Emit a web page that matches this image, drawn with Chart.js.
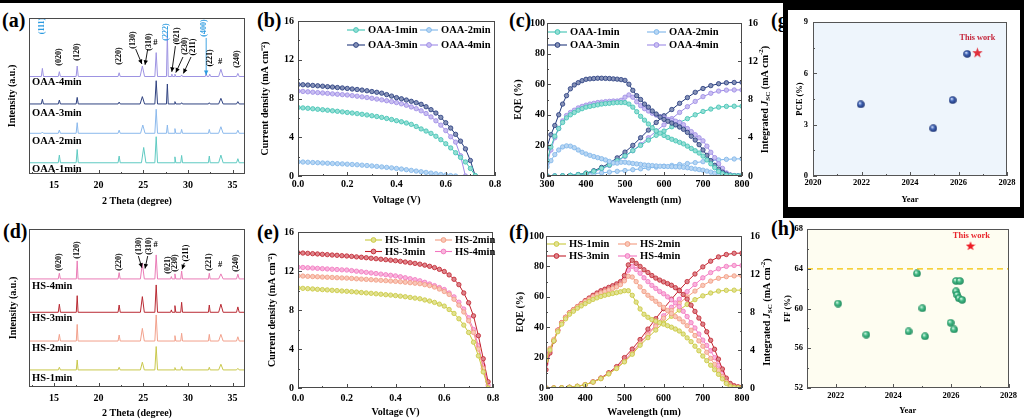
<!DOCTYPE html>
<html><head><meta charset="utf-8">
<script src="https://cdn.jsdelivr.net/npm/chart.js@4.4.0/dist/chart.umd.min.js"></script>
<style>
body{margin:0;width:1024px;height:419px;overflow:hidden;background:#fff;position:relative;}
canvas{position:absolute;}
.lbl{position:absolute;font:bold 20px "Liberation Serif",serif;color:#000;line-height:1;}
.blk{position:absolute;background:#000;}
.wht{position:absolute;background:#fff;}
</style></head><body>
<div class="blk" style="left:0;top:0;width:1024px;height:3px"></div>
<div class="lbl" style="left:2px;top:10px">(a)</div>
<div class="lbl" style="left:257px;top:10px">(b)</div>
<div class="lbl" style="left:509px;top:10px">(c)</div>
<div class="lbl" style="left:771px;top:10px">(g)</div>
<div class="blk" style="left:783px;top:0;width:241px;height:218px"></div>
<div class="wht" style="left:788px;top:10px;width:232px;height:197px"></div>
<div class="lbl" style="left:3px;top:221px">(d)</div>
<div class="lbl" style="left:257px;top:222px">(e)</div>
<div class="lbl" style="left:509px;top:222px">(f)</div>
<div class="lbl" style="left:771px;top:218px">(h)</div>
<script>
// ---------------- DATA ----------------
const oaaNames = ['OAA-1min','OAA-2min','OAA-3min','OAA-4min'];
const hsNames  = ['HS-1min','HS-2min','HS-3min','HS-4min'];

// XRD (a): baseline offset and peaks [2theta, height, half-width]
const xrdTicks = [15,20,25,30,35];
const oaa1Base = 7.2,  oaa1Peaks = [[15.6,4.9,.12],[17.6,8.5,.12],[22.3,4.3,.12],[25.05,9.8,.25],[26.45,16.7,.15],[28.55,3.8,.1],[29.3,4.7,.1],[32.4,4.3,.1],[33.7,4.9,.25],[35.6,2.6,.15]];
const oaa2Base = 26.1, oaa2Peaks = [[13.7,.8,.12],[15.6,2.1,.12],[17.6,6.8,.12],[22.3,2,.12],[24.95,5.3,.25],[26.45,15.4,.15],[27.7,5.3,.1],[28.55,3,.1],[29.3,2.5,.1],[32.4,2.5,.1],[33.7,4.2,.25],[35.6,2,.15]];
const oaa3Base = 44.9, oaa3Peaks = [[13.7,3,.12],[15.6,2.5,.12],[17.6,4.2,.12],[22.3,1.2,.12],[24.9,4.7,.25],[26.45,14.9,.15],[27.7,12.8,.1],[28.55,1.5,.1],[29.3,.8,.1],[32.4,.8,.1],[33.7,3.6,.25],[35.6,1.5,.15]];
const oaa4Base = 62.5, oaa4Peaks = [[13.7,5.2,.12],[15.6,3.1,.12],[17.6,6.7,.12],[22.3,2.4,.12],[24.9,6.7,.25],[26.45,15.3,.15],[27.7,27.7,.1],[28.2,1.5,.08],[28.55,1.5,.1],[29.3,1,.1],[32.05,2,.1],[32.45,1.5,.1],[33.7,4.6,.25],[35.6,2,.15]];
const peakLabelsA = [['(111)',13.7,94.9,1],['(020)',15.6,75,0],['(120)',17.6,78.2,0],['(220)',22.3,75.6,0],['(130)',23.9,85.9,0],['(310)',25.6,84.6,0],['(222)',27.55,91,1],['(021)',28.75,88.5,0],['(230)',29.7,82,0],['(211)',30.6,81.4,0],['(400)',31.85,93.6,1],['(221)',32.5,74.4,0],['(240)',35.5,73.7,0]];
const hashA = [[26.35,84],[33.6,71.8]];
const arrowsA = [[24.15,80.1,24.85,70.5,0],[25.5,80,25.2,70,0],[28.6,82,28.2,65.5,0],[29.45,75,28.65,65,0],[30.35,75,29.5,64.5,0],[32.05,87.2,32.05,63.5,1]];
const sampleLabelsA = [[12.55,59],[12.55,39.1],[12.55,21.2],[12.55,3.2]];

// XRD (d)
const hs1Base = 10.8, hs1Peaks = [[15.6,1.7,.12],[17.6,6.3,.1],[22.3,1.7,.12],[24.9,4.9,.22],[26.45,14.8,.15],[28.55,1.5,.1],[29.3,2.1,.1],[32.4,1.7,.1],[33.7,3.6,.25],[35.6,1,.15]];
const hs2Base = 29.1, hs2Peaks = [[15.6,4.2,.12],[17.6,10.5,.1],[22.3,3.8,.12],[24.9,8,.22],[26.45,16.5,.15],[28.55,3.4,.1],[29.3,4.9,.1],[32.4,4.2,.1],[33.7,4.2,.25],[35.6,2.7,.15]];
const hs3Base = 47.3, hs3Peaks = [[15.6,5.1,.12],[17.6,10.5,.1],[22.3,4.6,.12],[24.9,9.9,.22],[26.45,17.3,.15],[28.15,1.5,.08],[28.55,4.2,.1],[29.3,6.3,.1],[32.4,4.6,.1],[33.7,5.1,.25],[35.6,3.4,.15]];
const hs4Base = 68.4, hs4Peaks = [[15.6,3.6,.12],[17.6,11.4,.1],[22.3,4,.12],[24.9,9.9,.22],[26.45,15.2,.15],[28.15,1.5,.08],[28.55,3.2,.1],[29.3,5,.1],[32.4,3.6,.1],[33.7,3.2,.25],[35.6,3,.15]];
const peakLabelsD = [['(020)',15.6,79.1,0],['(120)',17.6,86.7,0],['(220)',22.3,79.1,0],['(130)',24.55,89.2,0],['(310)',25.6,89.2,0],['(021)',27.75,77.2,0],['(230)',28.6,78.5,0],['(211)',29.75,84.8,0],['(221)',32.4,79.1,0],['(240)',35.4,78.5,0]];
const hashD = [[26.4,89.9],[33.6,77.2]];
const arrowsD = [[24.45,82.9,24.85,75.5,0],[25.5,82.9,25.2,75,0],[29.6,78.5,29.35,74.5,0]];
const sampleLabelsD = [[12.55,63.9],[12.55,43.7],[12.55,24.7],[12.55,5.7]];

// J-V (b)
const jvTicksX = [0,0.2,0.4,0.6,0.8], jvTicksY = [0,4,8,12,16];
const voltB = [0,0.02,0.04,0.06,0.08,0.10,0.12,0.14,0.16,0.18,0.20,0.22,0.24,0.26,0.28,0.30,0.32,0.34,0.36,0.38,0.40,0.42,0.44,0.46,0.48,0.50,0.52,0.54,0.56,0.58,0.60,0.62,0.64,0.66,0.68,0.70,0.72];
const oaa1J = [7.07,7.03,6.99,6.94,6.89,6.84,6.79,6.73,6.68,6.62,6.56,6.50,6.44,6.37,6.30,6.22,6.14,6.05,5.94,5.83,5.71,5.60,5.47,5.33,5.11,4.86,4.64,4.40,4.10,3.75,3.33,2.90,2.40,1.92,1.45,0.78,0.05];
const oaa2J = [1.46,1.44,1.42,1.39,1.37,1.34,1.32,1.29,1.27,1.25,1.22,1.19,1.16,1.12,1.08,1.04,0.99,0.94,0.89,0.84,0.78,0.72,0.65,0.58,0.51,0.44,0.37,0.30,0.23,0.16,0.10,0.04,0.0,null,null,null,null];
const oaa3J = [9.45,9.42,9.39,9.35,9.31,9.27,9.22,9.18,9.13,9.09,9.04,8.98,8.93,8.87,8.80,8.72,8.64,8.55,8.40,8.25,8.09,7.97,7.84,7.71,7.57,7.40,7.15,6.85,6.50,6.05,5.50,4.95,4.30,3.60,2.80,1.60,0.0];
const oaa4J = [8.77,8.73,8.69,8.65,8.61,8.57,8.53,8.48,8.44,8.40,8.36,8.30,8.24,8.17,8.10,8.02,7.94,7.86,7.77,7.68,7.58,7.45,7.30,7.13,6.95,6.73,6.45,6.10,5.70,5.25,4.69,4.05,3.50,2.10,0.0,null,null];

// J-V (e)
const voltE = [0,0.02,0.04,0.06,0.08,0.10,0.12,0.14,0.16,0.18,0.20,0.22,0.24,0.26,0.28,0.30,0.32,0.34,0.36,0.38,0.40,0.42,0.44,0.46,0.48,0.50,0.52,0.54,0.56,0.58,0.60,0.62,0.64,0.66,0.68,0.70,0.72,0.74,0.76,0.78];
const hs1J = [10.26,10.22,10.19,10.16,10.12,10.09,10.06,10.02,9.99,9.95,9.92,9.88,9.84,9.79,9.75,9.71,9.66,9.62,9.57,9.53,9.48,9.42,9.36,9.29,9.22,9.15,9.03,8.92,8.78,8.60,8.40,8.05,7.65,7.10,6.45,5.70,4.70,3.30,1.65,0.0];
const hs2J = [11.50,11.48,11.45,11.43,11.41,11.38,11.36,11.34,11.31,11.29,11.27,11.24,11.20,11.17,11.14,11.11,11.07,11.04,11.01,10.97,10.94,10.90,10.85,10.80,10.75,10.70,10.60,10.50,10.35,10.15,9.90,9.60,9.10,8.50,7.80,6.90,5.70,4.00,2.00,0.0];
const hs3J = [13.87,13.84,13.81,13.78,13.75,13.71,13.68,13.64,13.61,13.57,13.54,13.50,13.45,13.41,13.36,13.31,13.26,13.21,13.16,13.11,13.06,12.99,12.92,12.85,12.78,12.70,12.60,12.48,12.35,12.17,11.95,11.60,11.15,10.60,9.75,8.74,7.40,5.37,3.00,0.64];
const hs4J = [12.39,12.36,12.33,12.30,12.27,12.24,12.21,12.18,12.15,12.12,12.10,12.04,11.98,11.92,11.86,11.80,11.74,11.68,11.62,11.56,11.50,11.41,11.31,11.21,11.11,11.00,10.84,10.67,10.50,10.30,10.10,9.75,9.35,8.80,8.10,7.20,6.00,4.35,2.30,0.3];

// EQE (c, f)
const eqeTicksX = [300,400,500,600,700,800], eqeTicksY = [0,20,40,60,80,100], jscTicks = [0,4,8,12,16];
const wl10 = [300,310,320,330,340,350,360,370,380,390,400,410,420,430,440,450,460,470,480,490,500,510,520,530,540,550,560,570,580,590,600,610,620,630,640,650,660,670,680,690,700,710,720,730,740,750,760,770,780,790,800];
const wl20 = [300,320,340,360,380,400,420,440,460,480,500,520,540,560,580,600,620,640,660,680,700,720,740,760,780,800];
const oaa1E = [10,19,26,31,35,38,40,41.5,43,44, 45,45.5,46,46.5,47,47.3,47.5,47.8,48,48, 48,47,45,42,39,36.5,34,31.5,29.5,28, 26.5,25.2,24,23,22,21,19.5,18,16.5,15, 13,10.5,8,5.5,3,1.5,0.6,0.3,0.2,0.1, 0.1];
const oaa2E = [6,10,14,17,19,19.7,19.5,18.5,17,15.5, 14.4,13.5,12.7,12,11.3,10.5,9.5,8.5,8.4,9, 9,8.6,8.2,7.9,7.6,7.2,7,6.8,6.6,6.4, 6.3,6.2,6.1,6,5.9,5.7,5.4,5,4.6,4.2, 3.8,3.2,2.5,1.8,1,0.6,0.3,0.2,0.1,0.1, 0.1];
const oaa3E = [18.7,27,33,40,47,52.5,57,59.5,61,62.3, 63.2,63.5,63.7,63.9,63.9,63.8,63.7,63.5,63.3,63, 62.5,60,56,52.5,50,47,45,42.5,40.5,38.5, 37,35.8,34.6,33.4,32,30.5,28.5,26,23.5,20.5, 17,13.5,10,7,4.5,2.5,1.2,0.5,0.2,0.1, 0.1];
const oaa4E = [8,17,25,31,36,39.5,41.5,43,44.5,45.5, 46.3,47,47.5,48,48.3,48.6,48.8,49,49,49.5, 51.5,53,51.5,48.5,46,44,42.5,41,39.8,38.8, 38,37,36.3,35.8,35,33.5,31,29,27,25, 23,19.5,15.5,12,8,5,2,0.7,0.2,0.1, 0.1];
const oaa1I = [0,0,0.02,0.06,0.14,0.28,0.5,0.8,1.15,1.6, 2.1,2.65,3.2,3.75,4.25,4.7,5.15,5.6,6.0,6.4, 6.75,7.0,7.2,7.28,7.3,7.3];
const oaa2I = [0,0.01,0.03,0.07,0.12,0.18,0.25,0.33,0.41,0.49, 0.57,0.66,0.75,0.84,0.93,1.02,1.11,1.2,1.3,1.4, 1.5,1.6,1.68,1.74,1.78,1.8];
const oaa3I = [0,0,0.02,0.06,0.15,0.3,0.55,0.9,1.35,1.9, 2.5,3.2,4.0,4.8,5.6,6.3,6.95,7.6,8.2,8.75, 9.15,9.45,9.65,9.75,9.78,9.8];
const oaa4I = [0,0,0.02,0.05,0.12,0.25,0.45,0.75,1.1,1.55, 2.05,2.65,3.3,4.0,4.7,5.35,6.0,6.65,7.25,7.8, 8.3,8.65,8.88,8.98,9.0,9.0];
const hs1E = [18,25,31,37,42,45.5,48.5,50.5,52.5,54, 55.5,57,58.3,59.3,60.2,61,61.6,62.2,62.7,63.3, 64,64,61,56.5,52,48.5,46.5,45,44,43, 42,41,40,38.8,37.5,35.5,33,30.5,27.5,24.5, 21,18,15,12,9,6,3,1,0.4,0.2, 0.1];
const hs2E = [19,26,32,38,43,46.5,49.5,51.5,53.5,55.3, 57,58.5,60,61.3,62.5,63.5,64.5,65.5,66.5,68, 70.5,73.5,73,70,66.5,63.5,61,59,57,55, 53,51,49,47,45.5,43.5,41,38,34.5,31, 27.5,23.5,19.5,15.5,11.5,7.5,4,1.5,0.5,0.2, 0.1];
const hs3E = [12,23,31,38,43,46.5,49.5,51.5,53.5,55.5, 57.5,59.2,61,62.5,64,65,66.2,67.3,68.5,70, 74,81,84,82,80,77.8,76,74,72.3,71, 69.8,68.7,67.6,66,64,61.5,58.5,54.5,50.4,46, 42,37,31.4,25.5,19,12.5,6.5,3,1.5,0.8, 0.5];
const hs4E = [16,24,31,38,43,46.5,49.5,51.5,53.5,55.3, 57,58.7,60.3,61.8,63,64.2,65.3,66.5,67.5,69, 72,77.5,80,78,75.5,72.5,70,67.5,65.5,63.5, 62,60,58,56,53.5,50.5,47,43,39.5,35.5, 31.5,28,24.5,20,15,10,5.5,2,0.7,0.3, 0.2];
const hs1I = [0,0.01,0.03,0.08,0.18,0.35,0.62,0.98,1.48,2.05, 2.75,3.55,4.5,5.3,6.1,6.85,7.55,8.2,8.8,9.3, 9.7,10.0,10.2,10.28,10.3,10.3];
const hs2I = [0,0.01,0.03,0.08,0.18,0.36,0.63,1.0,1.52,2.1, 2.8,3.65,4.7,5.6,6.5,7.35,8.15,8.9,9.6,10.2, 10.8,11.25,11.55,11.72,11.8,11.8];
const hs3I = [0,0,0.02,0.07,0.17,0.35,0.65,1.05,1.6,2.25, 3.2,4.1,5.1,6.2,7.3,8.35,9.35,10.3,11.2,12.0, 12.75,13.35,13.8,14.05,14.18,14.2];
const hs4I = [0,0,0.02,0.07,0.17,0.35,0.63,1.0,1.55,2.15, 2.9,3.8,4.75,5.7,6.65,7.6,8.5,9.35,10.15,10.9, 11.6,12.15,12.55,12.8,12.9,12.9];

// (g) PCE vs year
const yearTicksG = [2020,2022,2024,2026,2028], pceTicks = [0,3,6,9];
const pceYears = [2021.97,2024.96,2025.76,2026.36];
const pceVals  = [4.19,2.79,4.44,7.14];
const pceThisWork = [2026.78,7.21];
const pceThisLabel = [2026.78,8.08];
// (h) FF vs year
const yearTicksH = [2022,2024,2026,2028], ffTicks = [52,56,60,64,68];
const ffYears = [2022.08,2023.06,2024.53,2024.82,2025.01,2025.10,2025.99,2026.11,2026.18,2026.31,2026.18,2026.22,2026.28,2026.39];
const ffVals  = [60.5,57.37,57.7,63.53,60.03,57.2,58.57,57.9,62.77,62.77,61.73,61.37,61.03,60.87];
const ffThisWork = [2026.68,66.3];
const ffThisLabel = [2026.71,67.3];
const ffBenchmark = 64;

// ---------------- STYLE ----------------
const F = '"Liberation Serif","Times New Roman",serif';
const fnt = (s, w='bold', st='normal') => ({family:F, size:s, weight:w, style:st});
const cssF = (s, extra='bold') => `${extra} ${s}px ${F}`;
const oaaCol = ['#3fc3b3','#7db5ea','#23397c','#9d8ae6'];
const hsCol  = ['#c9c83b','#f39b80','#c2222d','#f276bf'];
const xrdA   = ['#5fcac2','#8bb9ec','#2f4280','#9d93e2'];
const xrdD   = ['#c9c84c','#f2a18c','#b92a33','#ea7cb6'];
const BLUE = '#2d9be0';
function tint(hex, f){ const n=parseInt(hex.slice(1),16); let r=n>>16,g=(n>>8)&255,b=n&255; r=Math.round(r+(255-r)*f); g=Math.round(g+(255-g)*f); b=Math.round(b+(255-b)*f); return `rgb(${r},${g},${b})`; }

// ---------------- PLUGINS ----------------
const framePlugin = {
  id:'frame',
  beforeDatasetsDraw(chart,args,o){
    if(!o.bg) return; const a=chart.chartArea, c=chart.ctx;
    c.save(); c.fillStyle=o.bg; c.fillRect(a.left,a.top,a.right-a.left,a.bottom-a.top); c.restore();
  },
  afterDraw(chart,args,o){
    const c=chart.ctx, a=chart.chartArea;
    c.save(); c.strokeStyle=o.color||'#4a4a4a'; c.lineWidth=1;
    c.strokeRect(Math.round(a.left)+0.5,Math.round(a.top)+0.5,Math.round(a.right-a.left)-1,Math.round(a.bottom-a.top)-1);
    Object.values(chart.scales).forEach(s=>{
      if((o.skip||[]).includes(s.id)) return;
      const vals=s.ticks.map(t=>t.value); if(vals.length<2) return;
      const step=vals[1]-vals[0], minors=[];
      for(let v=vals[0]-step/2; v<=s.max+1e-9; v+=step/1){ if(v>=s.min-1e-9) minors.push(v); }
      const draw=(v,len)=>{ const p=Math.round(s.getPixelForValue(v))+0.5; c.beginPath();
        if(s.axis==='x'){ c.moveTo(p,a.bottom); c.lineTo(p,a.bottom-len); }
        else if(s.position==='right'){ c.moveTo(a.right,p); c.lineTo(a.right-len,p); }
        else { c.moveTo(a.left,p); c.lineTo(a.left+len,p); }
        c.stroke(); };
      vals.forEach(v=>draw(v,4)); minors.forEach(v=>draw(v,2));
    });
    c.restore();
  }
};
const notePlugin = {
  id:'notes',
  afterDatasetsDraw(chart,args,o){
    const c=chart.ctx, xs=chart.scales.x, ys=chart.scales.y;
    (o.arrows||[]).forEach(([x1,y1,x2,y2,col])=>{
      const p1=[xs.getPixelForValue(x1),ys.getPixelForValue(y1)], p2=[xs.getPixelForValue(x2),ys.getPixelForValue(y2)];
      c.save(); c.strokeStyle=col; c.fillStyle=col; c.lineWidth=0.9;
      c.beginPath(); c.moveTo(p1[0],p1[1]); c.lineTo(p2[0],p2[1]); c.stroke();
      const ang=Math.atan2(p2[1]-p1[1],p2[0]-p1[0]), L=4.5, W=2.2;
      c.beginPath(); c.moveTo(p2[0],p2[1]);
      c.lineTo(p2[0]-L*Math.cos(ang)+W*Math.sin(ang), p2[1]-L*Math.sin(ang)-W*Math.cos(ang));
      c.lineTo(p2[0]-L*Math.cos(ang)-W*Math.sin(ang), p2[1]-L*Math.sin(ang)+W*Math.cos(ang));
      c.closePath(); c.fill(); c.restore();
    });
    (o.texts||[]).forEach(t=>{
      c.save(); c.translate(xs.getPixelForValue(t.x), ys.getPixelForValue(t.y));
      if(t.rot) c.rotate(t.rot);
      c.font=t.font; c.fillStyle=t.color||'#000'; c.textAlign=t.align||'center'; c.textBaseline='middle';
      c.fillText(t.text,0,0); c.restore();
    });
  }
};
const legendPlugin = {
  id:'lgd',
  afterDraw(chart,args,o){
    if(!o.items) return; const c=chart.ctx, a=chart.chartArea;
    c.save(); c.font=o.font; c.textBaseline='middle'; c.textAlign='left';
    o.items.forEach((it,i)=>{
      const x=a.left+o.cols[i%2], y=a.top+o.rows[Math.floor(i/2)];
      c.strokeStyle=it.color; c.lineWidth=1.1;
      c.beginPath(); c.moveTo(x,y); c.lineTo(x+o.len,y); c.stroke();
      c.beginPath(); c.arc(x+o.len/2,y,2.4,0,Math.PI*2); c.fillStyle=tint(it.color,0.45); c.fill(); c.lineWidth=0.9; c.stroke();
      c.fillStyle='#000'; c.fillText(it.label,x+o.len+3,y+0.5);
    });
    c.restore();
  }
};
const rtitlePlugin = {
  id:'rtitle',
  afterDraw(chart,args,o){
    if(!o.segs) return; const c=chart.ctx, a=chart.chartArea;
    c.save(); c.translate(a.right+o.dx,(a.top+a.bottom)/2); c.rotate(-Math.PI/2);
    c.fillStyle='#000'; c.textBaseline='middle'; c.textAlign='left';
    let w=0; o.segs.forEach(s=>{ c.font=s[1]; w+=c.measureText(s[0]).width; });
    let x=-w/2; o.segs.forEach(s=>{ c.font=s[1]; c.fillText(s[0],x,s[2]); x+=c.measureText(s[0]).width; });
    c.restore();
  }
};

// ---------------- HELPERS ----------------
function trace(base, peaks, x0, x1){
  const pts=[{x:x0,y:base}];
  peaks.forEach(([p,h,w])=>{ pts.push({x:p-w,y:base},{x:p,y:base+h},{x:p+w,y:base}); });
  pts.push({x:x1,y:base}); return pts;
}
const xy = (xs, ys) => xs.map((x,i)=>({x, y:ys[i]})).filter(p=>p.y!==null);
function sphere(d, c0, c1, c2){
  const cv=document.createElement('canvas'); cv.width=cv.height=d; const g=cv.getContext('2d');
  const gr=g.createRadialGradient(d*0.36,d*0.33,d*0.04,d/2,d/2,d/2);
  gr.addColorStop(0,c0); gr.addColorStop(0.4,c1); gr.addColorStop(1,c2);
  g.fillStyle=gr; g.beginPath(); g.arc(d/2,d/2,d/2-0.2,0,Math.PI*2); g.fill(); return cv;
}
function star(d, col){
  const cv=document.createElement('canvas'); cv.width=cv.height=d; const g=cv.getContext('2d');
  const R=d/2, r=R*0.42; g.fillStyle=col; g.beginPath();
  for(let i=0;i<10;i++){ const ang=-Math.PI/2+i*Math.PI/5, rad=i%2?r:R; g.lineTo(R+rad*Math.cos(ang), R*1.05+rad*Math.sin(ang)); }
  g.closePath(); g.fill(); return cv;
}
function axis(o){
  const s = {
    type:'linear', min:o.min, max:o.max, position:o.pos||undefined,
    afterBuildTicks:sc=>{ sc.ticks=o.ticks.map(v=>({value:v})); },
    grid:{display:false, drawTicks:false}, border:{display:false},
    ticks:{display:o.showTicks!==false, padding:o.tp, color:'#000', font:fnt(o.fs), autoSkip:false, maxRotation:0,
           callback:o.cb||(v=>String(v))},
    title:{display:!!o.title, text:o.title, color:'#000', font:fnt(o.fs), padding:{top:o.ttp||0,bottom:o.ttp||0}}
  };
  if(o.w!==undefined) s.afterFit=sc=>{ sc.width=o.w; };
  if(o.h!==undefined) s.afterFit=sc=>{ sc.height=o.h; };
  return s;
}
function mk(box, cfg){
  const c=document.createElement('canvas'); c.width=box[2]; c.height=box[3];
  c.style.left=box[0]+'px'; c.style.top=box[1]+'px'; document.body.appendChild(c);
  cfg.options.responsive=false; cfg.options.animation=false; cfg.options.devicePixelRatio=1;
  cfg.options.plugins = Object.assign({legend:{display:false}, tooltip:{enabled:false}}, cfg.options.plugins);
  cfg.plugins=[framePlugin, notePlugin, legendPlugin, rtitlePlugin];
  return new Chart(c,cfg);
}
function xrdTexts(labels, hashes, samples, names){
  const t=[];
  labels.forEach(([s,x,y,b])=>t.push({text:s,x,y,rot:-Math.PI/2,font:cssF(8),color:b?BLUE:'#000'}));
  hashes.forEach(([x,y])=>t.push({text:'#',x,y,font:cssF(8.5)}));
  samples.forEach(([x,y],i)=>t.push({text:names[3-i],x,y,align:'left',font:cssF(10.5)}));
  return t;
}
const xrdLine = (data,col)=>({data, borderColor:col, borderWidth:1, pointRadius:0, tension:0, fill:false});
const markLine = (data,col,axisId)=>({data, yAxisID:axisId||'y', borderColor:col, borderWidth:1, pointRadius:2.2, pointBorderWidth:0.8,
  pointBorderColor:col, pointBackgroundColor:tint(col,0.45), tension:0, fill:false});

// ---------------- (a) ----------------
mk([0,12,250,199], {type:'line', data:{datasets:[
    xrdLine(trace(oaa1Base,oaa1Peaks,12.2,36.4),xrdA[0]), xrdLine(trace(oaa2Base,oaa2Peaks,12.2,36.4),xrdA[1]),
    xrdLine(trace(oaa3Base,oaa3Peaks,12.2,36.4),xrdA[2]), xrdLine(trace(oaa4Base,oaa4Peaks,12.2,36.4),xrdA[3])]},
  options:{layout:{padding:{left:0,right:5,top:6,bottom:0}},
    plugins:{frame:{skip:['y']}, notes:{texts:xrdTexts(peakLabelsA,hashA,sampleLabelsA,oaaNames), arrows:arrowsA.map(a=>[a[0],a[1],a[2],a[3],a[4]?BLUE:'#000'])}},
    scales:{x:axis({min:12.2,max:36.4,ticks:xrdTicks,title:'2 Theta (degree)',fs:10,tp:5,h:37,ttp:4}),
            y:axis({min:0,max:100,ticks:[0,100],showTicks:false,title:'Intensity (a.u.)',fs:10,w:29,ttp:6})}}});

// ---------------- (d) ----------------
mk([0,223,250,196], {type:'line', data:{datasets:[
    xrdLine(trace(hs1Base,hs1Peaks,12.2,36.4),xrdD[0]), xrdLine(trace(hs2Base,hs2Peaks,12.2,36.4),xrdD[1]),
    xrdLine(trace(hs3Base,hs3Peaks,12.2,36.4),xrdD[2]), xrdLine(trace(hs4Base,hs4Peaks,12.2,36.4),xrdD[3])]},
  options:{layout:{padding:{left:0,right:5,top:6,bottom:0}},
    plugins:{frame:{skip:['y']}, notes:{texts:xrdTexts(peakLabelsD,hashD,sampleLabelsD,hsNames), arrows:arrowsD.map(a=>[a[0],a[1],a[2],a[3],'#000'])}},
    scales:{x:axis({min:12.2,max:36.4,ticks:xrdTicks,title:'2 Theta (degree)',fs:10,tp:5,h:32,ttp:0}),
            y:axis({min:0,max:100,ticks:[0,100],showTicks:false,title:'Intensity (a.u.)',fs:10,w:29,ttp:7})}}});

// ---------------- (b) ----------------
const jvB=[oaa1J,oaa2J,oaa3J,oaa4J];
mk([255,11,250,199], {type:'line', data:{datasets: jvB.map((arr,i)=>markLine(xy(voltB,arr),oaaCol[i]))},
  options:{layout:{padding:{left:0,right:10,top:8,bottom:0}},
    plugins:{frame:{}, lgd:{items:oaaNames.map((n,i)=>({label:n,color:oaaCol[i]})), font:cssF(10.5), cols:[49,122], rows:[9,24], len:18}},
    scales:{x:axis({min:0,max:0.8,ticks:jvTicksX,title:'Voltage (V)',fs:10,tp:2,h:34,ttp:4,cb:v=>v.toFixed(1)}),
            y:axis({min:0,max:16,ticks:jvTicksY,title:'Current density (mA cm⁻²)',fs:10,tp:4,w:43,ttp:4})}}});

// ---------------- (e) ----------------
const jvE=[hs1J,hs2J,hs3J,hs4J];
mk([262,222,243,196], {type:'line', data:{datasets: jvE.map((arr,i)=>markLine(xy(voltE,arr),hsCol[i]))},
  options:{layout:{padding:{left:0,right:12,top:8,bottom:0}},
    plugins:{frame:{}, lgd:{items:hsNames.map((n,i)=>({label:n,color:hsCol[i]})), font:cssF(10.5), cols:[67,137], rows:[8,19.5], len:17}},
    scales:{x:axis({min:0,max:0.8,ticks:jvTicksX,title:'Voltage (V)',fs:10,tp:4,h:30,ttp:0,cb:v=>v.toFixed(1)}),
            y:axis({min:0,max:16,ticks:jvTicksY,title:'Current density (mA cm⁻²)',fs:10,tp:4,w:36,ttp:4})}}});

// ---------------- (c) ----------------
const jscSegs = [['Integrated ',cssF(10),0],['J',cssF(10,'italic bold'),0],['SC',cssF(7),3],[' (mA cm',cssF(10),0],['-2',cssF(7),-4],[')',cssF(10),0]];
const eqeC=[oaa1E,oaa2E,oaa3E,oaa4E], intC=[oaa1I,oaa2I,oaa3I,oaa4I];
mk([508,11,267,199], {type:'line', data:{datasets:[
    ...eqeC.map((arr,i)=>markLine(xy(wl10,arr),oaaCol[i],'y')),
    ...intC.map((arr,i)=>markLine(xy(wl20,arr),oaaCol[i],'y2'))]},
  options:{layout:{padding:{left:0,right:0,top:8,bottom:0}},
    plugins:{frame:{}, rtitle:{dx:23,segs:jscSegs}, lgd:{items:oaaNames.map((n,i)=>({label:n,color:oaaCol[i]})), font:cssF(10.5), cols:[1,100], rows:[9,22], len:19}},
    scales:{x:axis({min:300,max:800,ticks:eqeTicksX,title:'Wavelength (nm)',fs:10,tp:2,h:34,ttp:4}),
            y:axis({min:0,max:100,ticks:eqeTicksY,title:'EQE (%)',fs:10,tp:2,w:39,ttp:4}),
            y2:axis({min:0,max:16,ticks:jscTicks,pos:'right',fs:10,tp:6,w:33})}}});

// ---------------- (f) ----------------
const eqeF=[hs1E,hs2E,hs3E,hs4E], intF=[hs1I,hs2I,hs3I,hs4I];
mk([508,222,267,196], {type:'line', data:{datasets:[
    ...eqeF.map((arr,i)=>markLine(xy(wl10,arr),hsCol[i],'y')),
    ...intF.map((arr,i)=>markLine(xy(wl20,arr),hsCol[i],'y2'))]},
  options:{layout:{padding:{left:0,right:0,top:8,bottom:0}},
    plugins:{frame:{}, rtitle:{dx:25,segs:jscSegs}, lgd:{items:hsNames.map((n,i)=>({label:n,color:hsCol[i]})), font:cssF(10.5), cols:[1,72], rows:[8,20], len:19}},
    scales:{x:axis({min:300,max:800,ticks:eqeTicksX,title:'Wavelength (nm)',fs:10,tp:4,h:30,ttp:0}),
            y:axis({min:0,max:100,ticks:eqeTicksY,title:'EQE (%)',fs:10,tp:2,w:38,ttp:6}),
            y2:axis({min:0,max:16,ticks:jscTicks,pos:'right',fs:10,tp:8,w:33})}}});

// ---------------- (g) ----------------
mk([792,12,226,195], {type:'scatter', data:{datasets:[
    {data:xy(pceYears,pceVals), pointStyle:sphere(8,'#d9e6ff','#3f63b5','#1b2f6d'), pointRadius:4},
    {data:[{x:pceThisWork[0],y:pceThisWork[1]}], pointStyle:star(11,'#e0303c'), pointRadius:5}]},
  options:{layout:{padding:{left:0,right:11,top:8,bottom:0}},
    plugins:{frame:{bg:'#eef5fc',color:'#555'}, notes:{texts:[{text:'This work',x:pceThisLabel[0],y:pceThisLabel[1],font:cssF(8.2),color:'#c4243a'}]}},
    scales:{x:axis({min:2020,max:2028,ticks:yearTicksG,title:'Year',fs:8.5,tp:2,h:31,ttp:2.5}),
            y:axis({min:0,max:9,ticks:pceTicks,title:'PCE (%)',fs:8.5,tp:5,w:21,ttp:2.5})}}});

// ---------------- (h) ----------------
mk([779,220,241,198], {type:'scatter', data:{datasets:[
    {data:[{x:2021,y:ffBenchmark},{x:2028,y:ffBenchmark}], showLine:true, borderColor:'#f2c200', borderWidth:1.4, borderDash:[6,4], pointRadius:0},
    {data:xy(ffYears,ffVals), pointStyle:sphere(8,'#d8f7e6','#45bb87','#1d8559'), pointRadius:4},
    {data:[{x:ffThisWork[0],y:ffThisWork[1]}], pointStyle:star(10,'#ee1c25'), pointRadius:5}]},
  options:{layout:{padding:{left:0,right:10,top:8,bottom:0}},
    plugins:{frame:{bg:'#fefdf1',color:'#555'}, notes:{texts:[{text:'This work',x:ffThisLabel[0],y:ffThisLabel[1],font:cssF(8.5),color:'#e8232a'}]}},
    scales:{x:axis({min:2021,max:2028,ticks:yearTicksH,title:'Year',fs:8.5,tp:3,h:30,ttp:2.5}),
            y:axis({min:52,max:68,ticks:ffTicks,title:'FF (%)',fs:8.5,tp:4,w:28,ttp:4})}}});
</script>
</body></html>
